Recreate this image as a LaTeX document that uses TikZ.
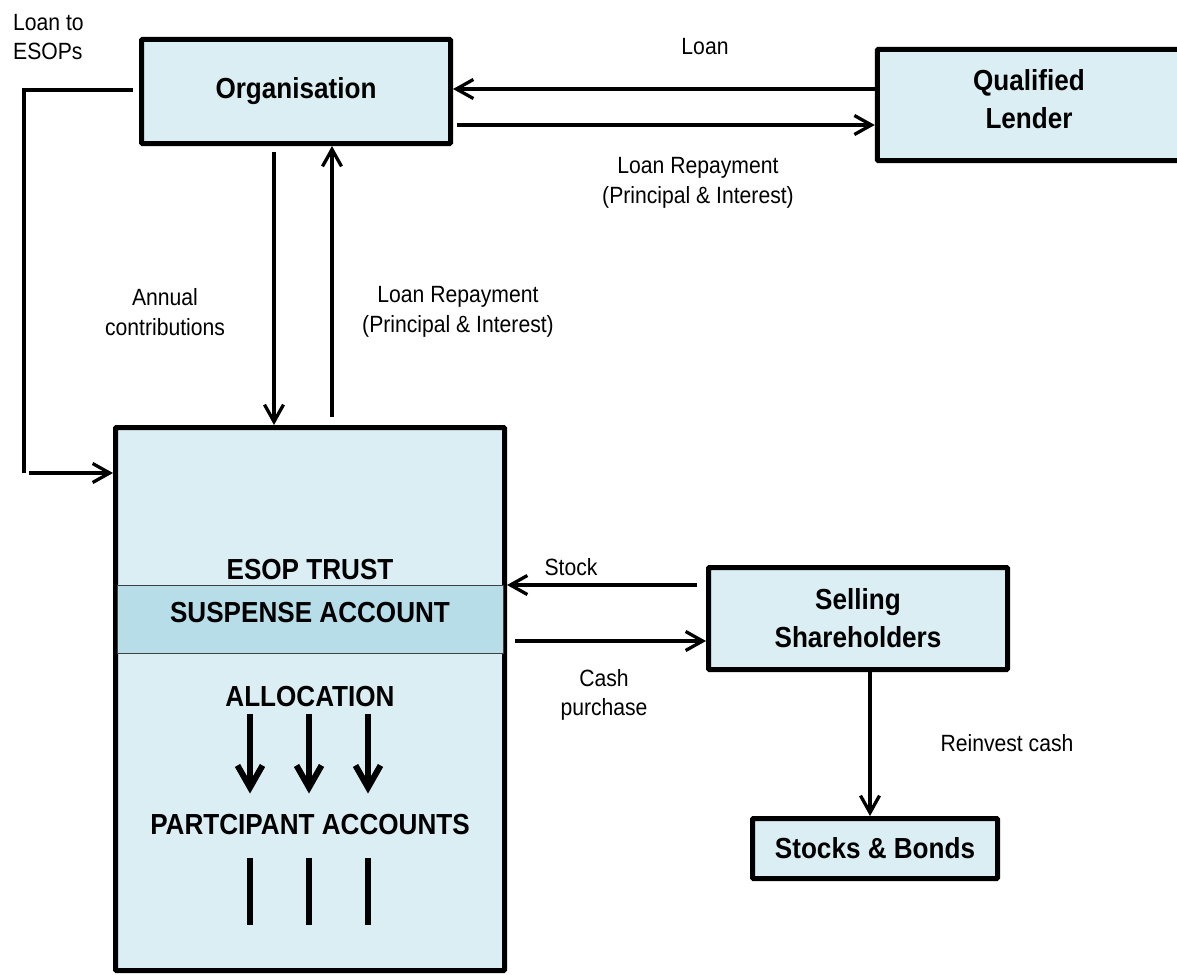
\documentclass[tikz,border=0pt]{standalone}
\usepackage{fontspec}
\setmainfont{Liberation Sans}[FakeStretch=0.9]
\usepackage{xcolor}
\usepackage{tikz}
\usetikzlibrary{positioning, arrows.meta}

\definecolor{boxblue}{HTML}{DAEEF3}
\definecolor{suspblue}{HTML}{B7DDE8}
\newcommand{\boxfont}{\fontsize{29}{38}\selectfont\bfseries}
\newcommand{\lblfont}{\fontsize{23.5}{29.5}\selectfont}

\begin{document}
\begin{tikzpicture}[x=1pt, y=-1pt,
  box/.style={draw, line width=5pt, fill=boxblue, rounded corners=1pt, align=center, inner sep=0pt, font=\boxfont},
  lbl/.style={align=center, inner sep=0pt, font=\lblfont},
  intxt/.style={align=center, inner sep=0pt, font=\boxfont},
  arr/.style={line width=3.3pt, -{Straight Barb[length=17pt, width=19pt]}},
  fatarr/.style={line width=6pt, -{Straight Barb[length=22pt, width=25pt]}}]
\useasboundingbox (0,0) rectangle (1177,974);
\clip (0,0) rectangle (1177,974);
\node[box, minimum width=309, minimum height=104] (org) at (296,91.5) {Organisation};
\node[box, minimum width=303.5, minimum height=111] (lender) at (1029,105) {};
\node[intxt] (lendertxt) at (1029,99) {Qualified\\Lender};
\node[box, minimum width=389, minimum height=543] (trust) at (310,699) {};
\node[draw=black!75, line width=1pt, fill=suspblue, minimum width=386, minimum height=68, inner sep=0pt] (susp) at (310,619) {};
\node[box, minimum width=299, minimum height=102] (sell) at (858,618.5) {Selling\\Shareholders};
\node[box, minimum width=245, minimum height=60] (stocks) at (875,848.5) {Stocks \& Bonds};
\coordinate (corner) at (24,473);
% texts inside the trust
\node[intxt] (trustlbl) at (310,570) {ESOP TRUST};
\node[intxt] (susplbl) at (310,613) {SUSPENSE ACCOUNT};
\node[intxt] (alloc) at (310,697) {ALLOCATION};
\node[intxt] (parts) at (310,825) {PARTCIPANT ACCOUNTS};
\foreach \x in {250,309,368}{
  \draw[fatarr, shorten <=7pt, shorten >=21pt] (alloc.south -| \x,0) -- (parts.north -| \x,0);
  \draw[line width=6pt] ([yshift=-23pt]parts.south -| \x,0) -- ++(0,67);
}
% connectors
\draw[arr] ([yshift=16pt]lender.west) -- ([yshift=2.5pt]org.east); % loan
\draw[arr] ([xshift=4pt, yshift=-33.5pt]org.east) -- ([yshift=-20pt]lender.west); % repayment
\draw[arr] ([xshift=-22pt, yshift=-6pt]org.south) -- ([xshift=-36pt]trust.north); % contributions
\draw[arr] ([xshift=22pt, yshift=8pt]trust.north) -- ([xshift=36pt]org.south); % repayment from trust
\draw[line width=3.3pt] ([xshift=-6pt, yshift=1.5pt]org.west) -| (corner); % loan to ESOPs
\draw[arr] ([xshift=5pt]corner) -- (trust.west |- corner);
\draw[arr] ([xshift=-9pt, yshift=33.5pt]sell.west) -- ([yshift=114pt]trust.east); % stock
\draw[arr] ([xshift=8pt, yshift=58pt]trust.east) -- ([yshift=-22.5pt]sell.west); % cash
\draw[arr] ([xshift=12pt]sell.south) -- ([xshift=12pt]sell.south |- stocks.north); % reinvest
% labels
\node[lbl, anchor=west, align=left] (esoplbl) at (13,37) {Loan to\\ESOPs};
\node[lbl] (loanlbl) at (705,47) {Loan};
\node[lbl] (repaylbl) at (698,183) {Loan Repayment\\(Principal \& Interest)};
\node[lbl] (annuallbl) at (165,312) {Annual\\contributions};
\node[lbl] (trustrepaylbl) at (458,312) {Loan Repayment\\(Principal \& Interest)};
\node[lbl] (stocklbl) at (571,567) {Stock};
\node[lbl] (cashlbl) at (604,695) {Cash\\purchase};
\node[lbl] (reinvestlbl) at (1007,743) {Reinvest cash};
\end{tikzpicture}
\end{document}
